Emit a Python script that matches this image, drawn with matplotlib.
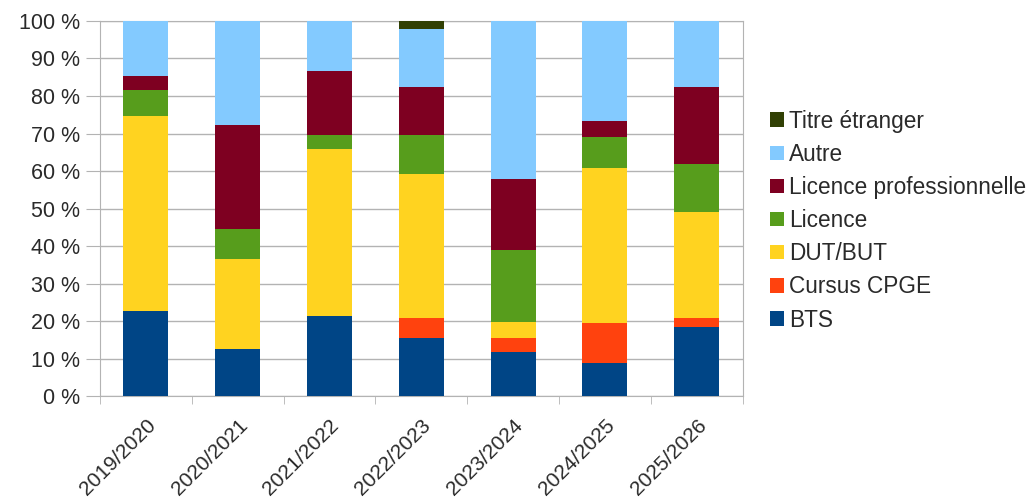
import numpy as np
import matplotlib.pyplot as plt
from matplotlib.ticker import FuncFormatter

plt.rcParams['font.family'] = ['Liberation Sans', 'DejaVu Sans']

annees = ["2019/2020", "2020/2021", "2021/2022", "2022/2023", "2023/2024", "2024/2025", "2025/2026"]

# parts en %
bts = [22.6, 12.5, 21.3, 15.6, 11.9, 8.8, 18.4]
cpge = [0.0, 0.0, 0.0, 5.2, 3.7, 10.7, 2.4]
dut = [52.1, 24.1, 44.5, 38.5, 4.3, 41.2, 28.3]
licence = [6.9, 7.9, 3.7, 10.2, 19.0, 8.4, 12.9]
licence_pro = [3.7, 27.7, 17.2, 13.0, 18.9, 4.2, 20.5]
autre = [14.7, 27.8, 13.3, 15.3, 42.2, 26.7, 17.5]
titre_etranger = [0.0, 0.0, 0.0, 2.2, 0.0, 0.0, 0.0]

series = [
    ("BTS", bts, "#004586"),
    ("Cursus CPGE", cpge, "#ff420e"),
    ("DUT/BUT", dut, "#ffd320"),
    ("Licence", licence, "#579d1c"),
    ("Licence professionnelle", licence_pro, "#7e0021"),
    ("Autre", autre, "#83caff"),
    ("Titre étranger", titre_etranger, "#314004"),
]

fig = plt.figure(figsize=(10.30, 4.99), dpi=100)
ax = fig.add_axes([0.097, 0.206, 0.624, 0.752])

x = np.arange(len(annees))
bas = np.zeros(len(annees))
for nom, vals, coul in series:
    ax.bar(x, vals, bottom=bas, width=0.49, color=coul, label=nom, zorder=3)
    bas += np.array(vals)

ax.set_xlim(-0.5, len(annees) - 0.5)
ax.set_ylim(0, 100)
ax.set_yticks(np.arange(0, 101, 10))
ax.yaxis.set_major_formatter(FuncFormatter(lambda v, p: f"{int(v)} %"))
ax.grid(axis="y", color="#b3b3b3", lw=1, zorder=0)

# ticks entre les catégories
ax.set_xticks(x)
ax.set_xticklabels(annees, rotation=45, ha="right", rotation_mode="anchor")
ax.set_xticks(np.arange(-0.5, len(annees), 1), minor=True)
ax.tick_params(axis="x", which="major", length=0, labelsize=15, colors="#2a2a2a", pad=14)
ax.tick_params(axis="x", which="minor", length=6, color="#b3b3b3")
ax.tick_params(axis="y", length=10, color="#b3b3b3", labelsize=15.5, labelcolor="#2a2a2a", pad=4)

for s in ax.spines.values():
    s.set_color("#b3b3b3")

h, l = ax.get_legend_handles_labels()
ax.legend(h[::-1], l[::-1], loc="center left", bbox_to_anchor=(1.0426, 0.468), frameon=False,
          borderpad=0, borderaxespad=0,
          fontsize=16.3, handlelength=0.6, handleheight=0.6, handletextpad=0.25,
          labelspacing=0.45, labelcolor="#2a2a2a")

fig.savefig("out.png", dpi=100)
